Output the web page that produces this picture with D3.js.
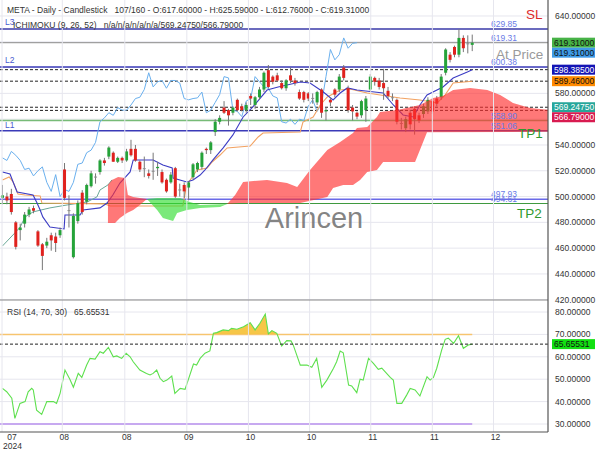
<!DOCTYPE html>
<html><head><meta charset="utf-8">
<script src="https://cdn.jsdelivr.net/npm/d3@7"></script>
<style>body{margin:0;background:#fff;}svg{display:block;font-family:"Liberation Sans",Arial,sans-serif;}text{white-space:pre;}</style>
</head><body><svg id="c" width="600" height="450"></svg>
<script>
// ---------- DATA ----------
const opens  = [499,500,502,480,474,479,486,491,473,463,462,470,469,470,521,489.5,453,481,503,496,508,515,519,528,531,534,527,530,528,537,537,527,521.5,518,519.5,522,519,513,511,522,505,509,507,515,521,523,537,536,550,558,569,567,565,575,570,567,578,571,577,583,598,593,594,588,584,594,590,581,581,580,576,573,583,566,575,583,583,600,584,569,565,563,567,583,592,590,588,582,577,575,556.5,553,565,568,563,564,566,574,576,577,596,610,616,610,623,618.5,617.6];
const highs  = [509,503,506,481,479,488,492,493,474,464,468,472,472,476,526,501,487,497,505,510,520,518,529,530,539,535,531,531,537,544,540,528,531,521,534,527,521,514,519,523,510,511,512,526,527,535,538,543,560,563,574,568,570,576,572,573,580,578,585,597,602,594,596,590,591,600,592,583,582,581,580,582,584,569,577,584,595,602,586,571,566,575,578,595,593,592,599,585,580,576,561,562,567,570,565,572,577,576,578,595,615,612,617,629.8,625,625,625.59];
const lows   = [494,494,486,459,466,476,484,487,461,443,460,458,457,468,497,476,452,479,486,494,507,510,517,524,529,527,526,526,527,531,527,519,515,514,513,516,510,503,510,499,500,499,497,513,519,521,533,533,547,556,564,555,563,566,566,565,571,568,575,581,584,587,589,583,582,588,586,575,573,574,572,571,561,559,570,577,581,590,565,559,560,561,558,581,586,583,575,576,574,556,552,550,552,548,557,561,564,564,570,575,594,604,608,608,612,611,612.76];
const closes = [501,497,488,461,476,486,490,489,462,454,465,466,464,474,499,489,485,495,488,509,518,515.5,528,526,538,527,530,528,535,532,528,521,522,516,520,523,511,504,517,500,505.5,504,511,525,526,534,536,542,558,561,565,563,569,567,567,571,576,577,583,596,585,589,590,584,590,590,588,576,575,576,576.5,581,565,567,573,579,593,592,567,566,562,574,576,593,589,585,584,578,576.5,558,557,560,556,560,559,570,575,566,572,593,614,606,610,623,615,618.8,619.31];

// Ichimoku lines: [bar, price]
const tenkan = [[0,519.1],[1.7,517.5],[2.4,511.3],[3.3,503.6],[6.9,501.2],[7.8,495],[8.5,489.6],[9.1,484.2],[10.7,476.4],[13.9,474.9],[14.1,485.7],[17.5,485.7],[18.2,489.6],[22,491.2],[23.6,495],[24.9,501.2],[26.5,510.5],[28.8,519.1],[29.5,528.4],[34,528.4],[36.2,524.5],[38.3,522.2],[38.5,514.4],[41.6,511.3],[43,512.9],[44.6,516.7],[45.7,520.6],[47.5,528.4],[49.8,537.7],[52,547.8],[54.3,561.7],[56.5,569.5],[59.7,582.6],[62.2,585],[67.2,588.8],[69.4,588.1],[72.4,581.1],[74.6,574.9],[76.2,580.3],[77.8,584.2],[80,582.6],[85.9,580.3],[88.2,571],[90.4,563.3],[92.7,561.7],[94.2,571],[95.8,578.8],[99.4,585],[101.7,591.9],[104.9,596.6],[106,598.385]];
const kijun = [[0,512.9],[1.5,515.2],[2.4,511.3],[3.5,502],[5.1,501.2],[8.5,500.5],[8.9,495],[23.1,494.3],[24.3,492.7],[40.7,492.7],[41.6,509],[43.9,520.6],[46.2,522.2],[47.3,526.8],[49.1,532.2],[50.7,537.7],[55.9,539.2],[57.7,546.2],[58.8,549.3],[67.2,550.1],[67.8,557.8],[70.1,561.7],[71.7,571],[73.3,577.2],[76.2,582.6],[78.4,583.4],[82.3,580.3],[89.7,576.4],[94.2,574.9],[98.1,572.6],[99.9,578.8],[101.7,588.1],[106,589.46]];
const spanA = [[0,461.7],[2.8,471.8],[4,476.4],[5.1,484.2],[6.9,488.1],[10.7,491.2],[14.6,493.5],[19.1,495.8],[21.3,499.7],[22,505.1],[23.8,509],[24.7,512.9],[26.1,515.2],[27.7,514.4],[28.3,501.2],[29.5,499.7],[31,498.9],[32.6,498.1],[34.9,489.6],[36.2,483.4],[38.5,481.1],[39.4,487.3],[41.6,489.6],[44.6,491.2],[49.1,491.9],[50.7,494.3],[52.5,501.2],[54.3,511.3],[59.7,512.9],[64.2,510.5],[66.5,507.4],[69.4,520.6],[73.3,536.1],[76.2,542.3],[79.1,549.3],[80,553.2],[82.3,554],[84.5,561.7],[85.2,565.6],[89.1,567.1],[94.2,571],[97.2,576.4],[99.4,578],[101.7,582.6],[105.5,584.2],[109.4,582.6],[112.3,578.8],[115.2,572.6],[119.1,568.7],[123.5,567.1]];
const spanB = [[23.8,479.5],[25.4,479.5],[26.5,483.4],[28.1,487.3],[29.5,489.6],[31,493.5],[32.6,498.1],[34.9,498.9],[40.1,498.9],[42.3,495.8],[44.6,493.5],[50.7,494.3],[53.6,495],[67.2,495],[73.3,499.7],[74.6,506.7],[76.9,509],[79.1,509],[80.7,512.9],[82.3,519.1],[84.5,520.6],[85.9,526.8],[93.1,526.8],[94.2,536.1],[95.8,549.8],[123.5,550.3]];
const rsi = [[0,45.9],[0.95,44.4],[2.1,41.5],[2.8,32.5],[3.95,39.2],[5.1,40],[5.8,44.4],[6.6,45.9],[6.95,45.2],[7.7,36.2],[8.85,34.3],[10,40],[11.5,40],[12.2,39.2],[13,43.7],[14.1,54.1],[15.2,50],[16,46.4],[17.1,52.6],[17.9,50.8],[19,56.3],[19.75,59.3],[20.9,59],[22,62.3],[22.75,61.6],[23.9,64.2],[25,60],[25.8,60.4],[26.9,59.3],[27.9,61.6],[28.8,60],[29.5,57.8],[31,54.1],[32.5,52.6],[33.3,51.9],[34,52.6],[34.8,54.1],[35.55,50.4],[36.3,48.9],[37.1,49.6],[38.2,51.4],[38.9,43.7],[40.1,45.9],[41.2,45.5],[41.9,49.6],[43.1,56.8],[43.8,56.3],[44.6,59.3],[45.7,61.6],[46.8,62.6],[47.6,70.5],[48.35,70.8],[49.8,72],[51,71.7],[51.7,72.7],[52.9,72.3],[54.4,73.4],[55.9,75.2],[57,72],[58.1,75],[59.3,79.1],[60,70.2],[60.8,71.7],[61.9,70.5],[63,64.8],[64.15,67.2],[65.1,67.1],[65.6,65.3],[67.2,56.3],[68.7,56.3],[69.8,55.3],[70.9,59.3],[72.05,46.4],[73.2,49.6],[74.7,54.9],[75.4,57.8],[76.2,62.6],[76.9,61.8],[78.1,47.4],[78.8,47],[79.95,44],[80.7,50],[81.4,49.6],[82.6,59.3],[83.7,57.1],[84.8,54.4],[85.6,54.9],[87.5,50.8],[88.2,49.6],[89,39.2],[90.1,39.2],[91.2,42.9],[92,45.9],[93.1,45.2],[94.2,42.5],[95.8,51.1],[96.5,49.6],[97.25,50.8],[98,54.9],[99.1,63],[99.9,67.8],[100.6,68.3],[101.8,66],[102.9,69.4],[104,63.8],[105.1,65.3],[106,65.655]];

const tickBars   = [-0.1,13.5,27.6,41.6,55.5,69.3,83.1,97,110.8];
const tickLabels = ["07","08","08","09","10","10","11","11","12"];
const priceTicks = [420,440,460,480,500,520,540,560,580,600,620,640];
const rsiTicks   = [30,40,50,60,70,80];

const levels = [ // price, color, width, label
  {p:629.85, c:"#3a3aa8", w:1.5, t:"629.85"},
  {p:619.31, c:"#a0a0a0", w:1.2, t:"619.31"},
  {p:600.38, c:"#3a3ab8", w:1.5, t:"600.38"},
  {p:558.90, c:"#77bb77", w:1.5, t:"558.90"},
  {p:551.06, c:"#3a3ab8", w:1.5, t:"551.06"},
  {p:497.93, c:"#6a6ae8", w:1.5, t:"497.93"},
  {p:494.61, c:"#3f9a3f", w:1.2, t:"494.61"}
];
const dashed = [598.385, 589.46, 569.2475, 566.79];
const boxes = [
  {p:619.31, bg:"#47b247", fg:"#111"},
  {p:619.31, bg:"#3f9be8", fg:"#111"},
  {p:598.385, bg:"#1414b4", fg:"#fff"},
  {p:589.46, bg:"#ff8a00", fg:"#111"},
  {p:569.2475, bg:"#26a69a", fg:"#fff"},
  {p:566.79, bg:"#d81b50", fg:"#fff"}
];
const rsiLast = 65.65531;

// ---------- LAYOUT ----------
const svg = d3.select("#c");
const W = 548, mainTop = 0, mainBot = 300, rsiBot = 432;
const x = d3.scaleLinear().domain([-0.56, 123.1]).range([0, W]);
const y = d3.scaleLinear().domain([419.8, 652.4]).range([mainBot, mainTop]);
const yr = d3.scaleLinear().domain([26.43, 85.36]).range([rsiBot, mainBot]);
const fmt = d3.format(".5f");

const defs = svg.append("defs");
defs.append("clipPath").attr("id","cm").append("rect").attr("x",0).attr("y",0).attr("width",W).attr("height",mainBot);
defs.append("clipPath").attr("id","cr").append("rect").attr("x",0).attr("y",mainBot).attr("width",W).attr("height",rsiBot-mainBot);
defs.append("clipPath").attr("id","c70").append("rect").attr("x",0).attr("y",mainBot).attr("width",W).attr("height",yr(70)-mainBot);

const main = svg.append("g").attr("clip-path","url(#cm)");
const rp = svg.append("g").attr("clip-path","url(#cr)");

// grid
main.selectAll(".hg").data(priceTicks).join("line").attr("x1",0).attr("x2",W)
  .attr("y1",d=>y(d)).attr("y2",d=>y(d)).attr("stroke","#e6e6ee").attr("stroke-width",1);
rp.selectAll(".hg").data(rsiTicks).join("line").attr("x1",0).attr("x2",W)
  .attr("y1",d=>yr(d)).attr("y2",d=>yr(d)).attr("stroke","#e6e6ee").attr("stroke-width",1);
svg.append("g").selectAll("line").data(tickBars).join("line")
  .attr("x1",d=>x(d)).attr("x2",d=>x(d)).attr("y1",0).attr("y2",rsiBot)
  .attr("stroke","#e6e6ee").attr("stroke-width",1);

// level lines
main.selectAll(".lv").data(levels).join("line").attr("x1",0).attr("x2",W)
  .attr("y1",d=>y(d.p)).attr("y2",d=>y(d.p)).attr("stroke",d=>d.c).attr("stroke-width",d=>d.w);
main.selectAll(".ds").data(dashed).join("line").attr("x1",0).attr("x2",W)
  .attr("y1",d=>y(d)).attr("y2",d=>y(d)).attr("stroke","#222").attr("stroke-width",1).attr("stroke-dasharray","3,2");

// ichimoku lines
const ln = d3.line().x(d=>x(d[0])).y(d=>y(d[1]));
const chikou = closes.map((c,i)=>[i-26,c]).filter(d=>d[0]>=0);
main.append("path").attr("d",ln(chikou)).attr("fill","none").attr("stroke","#6ab0ee").attr("stroke-width",1);
main.append("path").attr("d",ln(spanA.filter(d=>d[0]<=spanB[0][0]+1))).attr("fill","none").attr("stroke","#6aa898").attr("stroke-width",1);
main.append("path").attr("d",ln(kijun)).attr("fill","none").attr("stroke","#f2a262").attr("stroke-width",1.1);
main.append("path").attr("d",ln(tenkan)).attr("fill","none").attr("stroke","#3c3cc4").attr("stroke-width",1.1);

// candles
const idx = d3.range(opens.length);
const col = i => Math.abs(closes[i]-opens[i]) < 0.8 ? "#8c8c8c" : (closes[i] > opens[i] ? "#25a339" : "#e0221e");
main.selectAll(".wk").data(idx).join("line")
  .attr("x1",i=>x(i)).attr("x2",i=>x(i)).attr("y1",i=>y(highs[i])).attr("y2",i=>y(lows[i]))
  .attr("stroke","#777").attr("stroke-width",1);
main.selectAll(".bd").data(idx).join("rect")
  .attr("x",i=>x(i)-1.5).attr("width",3)
  .attr("y",i=>y(Math.max(opens[i],closes[i])))
  .attr("height",i=>Math.max(1, Math.abs(y(opens[i])-y(closes[i]))))
  .attr("fill",i=>col(i));

// cloud
defs.append("clipPath").attr("id","aboveB").append("path")
  .attr("d", d3.area().x(d=>x(d[0])).y0(d=>y(d[1])).y1(-10)(spanB));
defs.append("clipPath").attr("id","aboveA").append("path")
  .attr("d", d3.area().x(d=>x(d[0])).y0(d=>y(d[1])).y1(-10)(spanA));
const cloud = main.append("g");
cloud.append("g").attr("clip-path","url(#aboveB)").append("path")
  .attr("d", d3.area().x(d=>x(d[0])).y0(d=>y(d[1])).y1(mainBot+10)(spanA))
  .attr("fill","#ff3030").attr("fill-opacity",0.65);
cloud.append("g").attr("clip-path","url(#aboveA)").append("path")
  .attr("d", d3.area().x(d=>x(d[0])).y0(d=>y(d[1])).y1(mainBot+10)(spanB))
  .attr("fill","#33dd33").attr("fill-opacity",0.65);

// level labels
main.selectAll(".lt").data(levels).join("text")
  .attr("x",491).attr("y",d=>y(d.p)-2).attr("font-size",8.5).attr("fill","#6b7be6").text(d=>d.t);
const bigT = [{t:"SL",p:641.5,c:"#dd2a2a",x:526},{t:"At Price",p:610.2,c:"#9a9a9a",x:496},{t:"TP1",p:549.5,c:"#2f9a2f",x:518},{t:"TP2",p:487.5,c:"#2f9a2f",x:517}];
main.selectAll(".bt").data(bigT).join("text").attr("x",d=>d.x).attr("y",d=>y(d.p)+5)
  .attr("font-size",13.5).attr("fill",d=>d.c).text(d=>d.t);
main.append("text").attr("x",314).attr("y",y(483)+10).attr("text-anchor","middle")
  .attr("font-size",29).attr("fill","#6e6e6e").attr("fill-opacity",0.85).text("Arincen");
const Lt = [{t:"L3",p:635},{t:"L2",p:605.5},{t:"L1",p:555.3}];
main.selectAll(".Lt").data(Lt).join("text").attr("x",5).attr("y",d=>y(d.p)+3)
  .attr("font-size",8.5).attr("fill","#4a5bd0").text(d=>d.t);

// RSI panel
const lastX = x(opens.length-1);
rp.append("line").attr("x1",0).attr("x2",lastX).attr("y1",yr(70)).attr("y2",yr(70)).attr("stroke","#f8c880").attr("stroke-width",1.5);
rp.append("line").attr("x1",0).attr("x2",lastX).attr("y1",yr(30)).attr("y2",yr(30)).attr("stroke","#b890ee").attr("stroke-width",1.5);
rp.append("g").attr("clip-path","url(#c70)").append("path")
  .attr("d", d3.area().x(d=>x(d[0])).y0(yr(70)).y1(d=>yr(d[1]))(rsi))
  .attr("fill","#f5c034").attr("fill-opacity",0.9);
rp.append("path").attr("d", d3.line().x(d=>x(d[0])).y(d=>yr(d[1]))(rsi))
  .attr("fill","none").attr("stroke","#5ee04e").attr("stroke-width",1.1);
rp.append("line").attr("x1",0).attr("x2",W).attr("y1",yr(rsiLast)).attr("y2",yr(rsiLast))
  .attr("stroke","#222").attr("stroke-width",1).attr("stroke-dasharray","3,2");

// frame
svg.append("line").attr("x1",0).attr("x2",W).attr("y1",mainBot).attr("y2",mainBot).attr("stroke","#888").attr("stroke-width",1.2);
svg.append("line").attr("x1",0).attr("x2",W).attr("y1",rsiBot).attr("y2",rsiBot).attr("stroke","#555").attr("stroke-width",1.2);
svg.append("line").attr("x1",W).attr("x2",W).attr("y1",0).attr("y2",rsiBot).attr("stroke","#555").attr("stroke-width",1.2);

// label boxes with collision push-down
let prev = -100;
const bx = boxes.map(b=>{ let yy = y(b.p); if (yy < prev + 10) yy = prev + 10; prev = yy; return Object.assign({yy}, b); });
// right axes (tick labels that sit under a value box are hidden, as in the reference)
const visTicks = priceTicks.filter(t => bx.every(b => Math.abs(y(t) - b.yy) > 8));
svg.append("g").selectAll("text").data(visTicks).join("text")
  .attr("x",555).attr("y",d=>y(d)+3).attr("font-size",8.5).attr("fill","#333").text(d=>fmt(d));
svg.append("g").selectAll("text").data(rsiTicks.filter(t=>Math.abs(yr(t)-yr(rsiLast))>8)).join("text")
  .attr("x",555).attr("y",d=>yr(d)+3).attr("font-size",8.5).attr("fill","#333").text(d=>fmt(d));
const bg = svg.append("g");
bg.selectAll("rect").data(bx).join("rect").attr("x",552).attr("y",d=>d.yy-5).attr("width",43).attr("height",10).attr("fill",d=>d.bg);
bg.selectAll("text").data(bx).join("text").attr("x",554).attr("y",d=>d.yy+3).attr("font-size",8.5).attr("fill",d=>d.fg).text(d=>fmt(d.p));
svg.append("rect").attr("x",552).attr("y",yr(rsiLast)-5).attr("width",43).attr("height",10).attr("fill","#11e011");
svg.append("text").attr("x",554).attr("y",yr(rsiLast)+3).attr("font-size",8.5).attr("fill","#111").text(d3.format(".5f")(rsiLast));

// x axis labels
svg.append("g").selectAll("text").data(tickBars).join("text")
  .attr("x",(d,i)=>Math.max(x(d)+2, 12)).attr("y",440).attr("text-anchor","middle")
  .attr("font-size",8.5).attr("fill","#333").text((d,i)=>tickLabels[i]);
svg.append("text").attr("x",3).attr("y",449).attr("font-size",8.5).attr("fill","#333").text("2024");

// headers
svg.append("text").attr("x",7).attr("y",13).attr("font-size",8.5).attr("fill","#333")
  .text("META - Daily - Candlestick   107/160 - O:617.60000 - H:625.59000 - L:612.76000 - C:619.31000");
svg.append("text").attr("x",13).attr("y",28).attr("font-size",8.5).attr("fill","#333")
  .text("ICHIMOKU (9, 26, 52)   n/a/n/a/n/a/n/a/569.24750/566.79000");
svg.append("text").attr("x",7).attr("y",315).attr("font-size",8.5).attr("fill","#333")
  .text("RSI (14, 70, 30)   65.65531");
</script></body></html>
